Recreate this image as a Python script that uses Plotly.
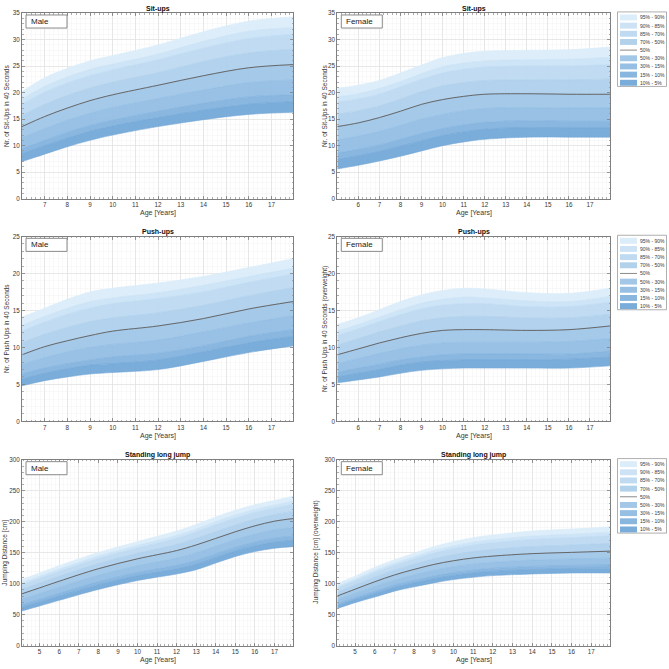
import plotly.graph_objects as go

# ---------------- DATA ----------------
band_labels = ["95% - 90%", "90% - 85%", "85% - 70%", "70% - 50%", "50%",
               "50% - 30%", "30% - 15%", "15% - 10%", "10% - 5%"]

# Male sit-ups
su_m_age = [6, 7, 8, 9, 10, 12, 14, 16, 17.95]
su_m_p95 = [20.2, 22.8, 24.6, 26.0, 27.0, 29.0, 31.5, 33.5, 34.3]
su_m_p90 = [18.8, 21.2, 23.0, 24.4, 25.4, 27.3, 29.7, 31.6, 32.3]
su_m_p85 = [17.8, 20.1, 21.8, 23.2, 24.3, 26.2, 28.4, 30.2, 31.0]
su_m_p70 = [15.7, 17.8, 19.5, 20.9, 22.0, 23.8, 25.9, 27.5, 28.2]
su_m_p50 = [13.6, 15.5, 17.1, 18.5, 19.6, 21.4, 23.2, 24.7, 25.3]
su_m_p30 = [11.5, 13.2, 14.8, 16.1, 17.2, 18.9, 20.5, 21.9, 22.4]
su_m_p15 = [9.4, 11.0, 12.5, 13.8, 14.8, 16.5, 18.0, 19.2, 19.6]
su_m_p10 = [8.5, 10.0, 11.4, 12.7, 13.7, 15.3, 16.7, 17.8, 18.3]
su_m_p5 = [7.0, 8.4, 9.8, 11.0, 12.0, 13.6, 14.9, 15.9, 16.3]

# Female sit-ups
su_f_age = [5, 6, 7, 8, 9, 10, 11, 12, 14, 16, 17.95]
su_f_p95 = [20.8, 21.4, 22.3, 23.7, 25.2, 26.6, 27.4, 27.8, 28.0, 28.1, 28.6]
su_f_p90 = [19.2, 19.8, 20.8, 22.1, 23.6, 24.9, 25.6, 26.0, 26.2, 26.3, 26.7]
su_f_p85 = [18.2, 18.8, 19.7, 21.1, 22.5, 23.7, 24.4, 24.8, 25.0, 25.0, 25.3]
su_f_p70 = [15.9, 16.6, 17.5, 18.8, 20.2, 21.3, 21.9, 22.3, 22.4, 22.4, 22.6]
su_f_p50 = [13.6, 14.3, 15.3, 16.5, 17.8, 18.7, 19.3, 19.7, 19.8, 19.7, 19.7]
su_f_p30 = [11.1, 11.8, 12.7, 13.8, 15.0, 15.9, 16.6, 17.0, 17.2, 17.1, 17.1]
su_f_p15 = [8.6, 9.3, 10.1, 11.2, 12.3, 13.2, 13.9, 14.4, 14.7, 14.6, 14.6]
su_f_p10 = [7.4, 8.1, 8.9, 9.9, 10.9, 11.9, 12.6, 13.1, 13.4, 13.4, 13.4]
su_f_p5 = [5.6, 6.3, 7.1, 8.0, 9.0, 10.0, 10.7, 11.2, 11.6, 11.6, 11.6]

# Male push-ups
pu_m_age = [6, 7, 8, 9, 10, 12, 14, 16, 17.95]
pu_m_p95 = [14.1, 15.3, 16.5, 17.5, 18.0, 18.7, 19.6, 20.8, 22.0]
pu_m_p90 = [13.0, 14.2, 15.3, 16.2, 16.7, 17.4, 18.4, 19.6, 20.7]
pu_m_p85 = [12.2, 13.4, 14.5, 15.3, 15.9, 16.6, 17.5, 18.8, 19.9]
pu_m_p70 = [10.6, 11.8, 12.7, 13.5, 14.0, 14.7, 15.7, 17.0, 18.1]
pu_m_p50 = [9.0, 10.1, 10.9, 11.6, 12.2, 12.9, 13.9, 15.2, 16.2]
pu_m_p30 = [7.7, 8.6, 9.4, 10.0, 10.4, 11.0, 12.1, 13.3, 14.3]
pu_m_p15 = [6.4, 7.2, 7.8, 8.3, 8.7, 9.2, 10.2, 11.5, 12.4]
pu_m_p10 = [5.7, 6.5, 7.1, 7.6, 7.8, 8.3, 9.4, 10.6, 11.5]
pu_m_p5 = [4.8, 5.5, 6.0, 6.4, 6.6, 7.0, 8.1, 9.3, 10.2]

# Female push-ups
pu_f_age = [5, 6, 7, 8, 9, 10, 11, 12, 14, 16, 17.95]
pu_f_p95 = [13.1, 14.0, 15.1, 16.2, 17.1, 17.7, 18.0, 17.9, 17.4, 17.3, 18.0]
pu_f_p90 = [12.2, 13.1, 14.1, 15.1, 16.0, 16.5, 16.8, 16.7, 16.3, 16.2, 16.9]
pu_f_p85 = [11.6, 12.5, 13.5, 14.4, 15.2, 15.7, 15.9, 15.9, 15.5, 15.5, 16.1]
pu_f_p70 = [10.3, 11.2, 12.1, 12.9, 13.6, 14.0, 14.2, 14.2, 14.0, 14.0, 14.5]
pu_f_p50 = [9.0, 9.8, 10.6, 11.3, 11.9, 12.3, 12.4, 12.4, 12.3, 12.4, 12.9]
pu_f_p30 = [7.8, 8.5, 9.2, 9.8, 10.3, 10.6, 10.7, 10.7, 10.7, 10.8, 11.2]
pu_f_p15 = [6.6, 7.2, 7.7, 8.3, 8.7, 9.0, 9.1, 9.1, 9.1, 9.1, 9.5]
pu_f_p10 = [6.0, 6.5, 7.0, 7.6, 8.0, 8.2, 8.3, 8.3, 8.3, 8.4, 8.7]
pu_f_p5 = [5.2, 5.6, 6.0, 6.5, 6.9, 7.1, 7.2, 7.2, 7.2, 7.2, 7.5]

# Male standing long jump
lj_m_age = [4.1, 5, 6, 8, 10, 12, 13, 14, 15, 16, 17, 17.95]
lj_m_p95 = [106.6, 117.2, 128.9, 150.2, 167.8, 184.9, 195.5, 207.8, 218.4, 227.5, 234.4, 241.3]
lj_m_p90 = [101.5, 111.9, 123.4, 144.5, 161.7, 178.0, 188.2, 200.2, 210.8, 220.0, 227.0, 233.3]
lj_m_p85 = [98.1, 108.3, 119.7, 140.5, 157.6, 173.2, 183.3, 195.0, 205.6, 214.9, 222.0, 227.9]
lj_m_p70 = [91.0, 100.9, 111.9, 132.5, 149.0, 163.5, 173.1, 184.2, 194.9, 204.3, 211.6, 216.7]
lj_m_p50 = [83.6, 93.2, 103.9, 124.1, 140.1, 153.4, 162.5, 173.1, 183.8, 193.4, 200.9, 205.1]
lj_m_p30 = [74.7, 83.8, 94.0, 113.4, 128.9, 141.3, 149.7, 160.3, 171.0, 180.1, 186.9, 190.6]
lj_m_p15 = [66.1, 74.7, 84.4, 103.0, 118.0, 129.6, 137.3, 148.0, 158.6, 167.2, 173.4, 176.6]
lj_m_p10 = [62.0, 70.3, 79.8, 98.0, 112.7, 123.9, 131.3, 142.0, 152.6, 161.0, 166.8, 169.8]
lj_m_p5 = [55.9, 63.9, 73.0, 90.6, 105.0, 115.6, 122.5, 133.2, 143.8, 151.8, 157.2, 159.8]

# Female standing long jump
lj_f_age = [4.1, 5, 6, 7, 8, 9, 10, 11, 12, 14, 16, 17.95]
lj_f_p95 = [100.2, 111.9, 126.3, 138.5, 149.2, 159.8, 167.8, 174.2, 178.5, 184.9, 188.1, 191.8]
lj_f_p90 = [95.8, 107.3, 121.2, 133.1, 143.4, 153.5, 161.0, 167.0, 171.0, 176.9, 179.8, 183.2]
lj_f_p85 = [92.7, 104.2, 117.7, 129.4, 139.5, 149.1, 156.4, 162.1, 165.9, 171.4, 174.2, 177.3]
lj_f_p70 = [86.5, 97.7, 110.5, 121.8, 131.4, 140.2, 146.9, 152.0, 155.4, 160.1, 162.5, 165.1]
lj_f_p50 = [80.0, 91.0, 103.0, 114.0, 123.0, 131.0, 137.0, 141.5, 144.5, 148.5, 150.5, 152.5]
lj_f_p30 = [73.5, 84.1, 95.1, 105.6, 114.0, 121.5, 127.3, 131.5, 134.4, 138.0, 139.8, 141.2]
lj_f_p15 = [67.2, 77.3, 87.4, 97.6, 105.2, 112.2, 117.8, 121.8, 124.7, 127.8, 129.5, 130.3]
lj_f_p10 = [64.2, 74.1, 83.7, 93.6, 101.0, 107.8, 113.3, 117.2, 119.9, 122.8, 124.5, 125.0]
lj_f_p5 = [59.7, 69.3, 78.3, 87.9, 94.8, 101.2, 106.6, 110.3, 113.0, 115.6, 117.2, 117.2]

titles = ["Sit-ups", "Sit-ups", "Push-ups", "Push-ups", "Standing long jump", "Standing long jump"]
sex_labels = ["Male", "Female", "Male", "Female", "Male", "Female"]
y_titles = ["Nr. of Sit-Ups in 40 Seconds", "Nr. of Sit-Ups in 40 Seconds",
            "Nr. of Push Ups in 40 Seconds", "Nr. of Push Ups in 40 Seconds (overweight)",
            "Jumping Distance [cm]", "Jumping Distance [cm] (overweight)"]
x_title = "Age [Years]"

# ---------------- STYLE / LAYOUT ----------------
W = H = 669
FONT = "Liberation Sans, Arial, Helvetica, sans-serif"
TXT = "#383838"
AXC = "#7f7f7f"

def px(x):
    return x / W

def py(y):
    return 1 - y / H

# fill colours from top band (95-90) to bottom band (10-5)
band_fill = ["rgba(218,237,250,0.93)", "rgba(202,226,246,0.93)", "rgba(188,217,241,0.93)",
             "rgba(173,207,236,0.93)", "rgba(158,197,231,0.93)", "rgba(144,188,227,0.93)",
             "rgba(129,178,222,0.93)", "rgba(113,167,216,0.93)"]
legend_swatch = ["#dcedfa", "#cde3f5", "#c0dbf1", "#b2d2ec", "#a3c8e7", "#96bfe3", "#88b6de", "#79acd9"]
MEDIAN_COLOR = "#666666"

cols = [(22.0, 293.0), (337.3, 610.0)]
rows = [(9.3, 196.7), (235.0, 421.7), (460.7, 648.3)]

panels = [
    dict(age=su_m_age, p=[su_m_p5, su_m_p10, su_m_p15, su_m_p30, su_m_p50, su_m_p70, su_m_p85, su_m_p90, su_m_p95],
         xr=[6.0, 17.95], xt=list(range(7, 18)), yr=[0, 35], ydt=5, ymin=1),
    dict(age=su_f_age, p=[su_f_p5, su_f_p10, su_f_p15, su_f_p30, su_f_p50, su_f_p70, su_f_p85, su_f_p90, su_f_p95],
         xr=[5.0, 17.95], xt=list(range(6, 18)), yr=[0, 35], ydt=5, ymin=1),
    dict(age=pu_m_age, p=[pu_m_p5, pu_m_p10, pu_m_p15, pu_m_p30, pu_m_p50, pu_m_p70, pu_m_p85, pu_m_p90, pu_m_p95],
         xr=[6.0, 17.95], xt=list(range(7, 18)), yr=[0, 25], ydt=5, ymin=1),
    dict(age=pu_f_age, p=[pu_f_p5, pu_f_p10, pu_f_p15, pu_f_p30, pu_f_p50, pu_f_p70, pu_f_p85, pu_f_p90, pu_f_p95],
         xr=[5.0, 17.95], xt=list(range(6, 18)), yr=[0, 25], ydt=5, ymin=1),
    dict(age=lj_m_age, p=[lj_m_p5, lj_m_p10, lj_m_p15, lj_m_p30, lj_m_p50, lj_m_p70, lj_m_p85, lj_m_p90, lj_m_p95],
         xr=[4.1, 17.95], xt=list(range(5, 18)), yr=[0, 300], ydt=50, ymin=10),
    dict(age=lj_f_age, p=[lj_f_p5, lj_f_p10, lj_f_p15, lj_f_p30, lj_f_p50, lj_f_p70, lj_f_p85, lj_f_p90, lj_f_p95],
         xr=[4.1, 17.95], xt=list(range(5, 18)), yr=[0, 300], ydt=50, ymin=10),
]

fig = go.Figure()
shapes = []
annotations = []
layout_axes = {}

for i, pan in enumerate(panels):
    r, c = divmod(i, 2)
    L, R = cols[c]
    T, B = rows[r]
    n = i + 1
    xa = "x" if n == 1 else f"x{n}"
    ya = "y" if n == 1 else f"y{n}"
    xkey = "xaxis" if n == 1 else f"xaxis{n}"
    ykey = "yaxis" if n == 1 else f"yaxis{n}"

    bottom_to_top_fill = band_fill[::-1]
    fig.add_trace(go.Scatter(x=pan["age"], y=pan["p"][0], mode="lines",
                             line=dict(width=0.6, color=bottom_to_top_fill[0], shape="spline"),
                             xaxis=xa, yaxis=ya, showlegend=False, hoverinfo="skip"))
    for k in range(1, 9):
        fig.add_trace(go.Scatter(x=pan["age"], y=pan["p"][k], mode="lines",
                                 line=dict(width=0.8, color=bottom_to_top_fill[k - 1], shape="spline"),
                                 fill="tonexty", fillcolor=bottom_to_top_fill[k - 1],
                                 xaxis=xa, yaxis=ya, showlegend=False, hoverinfo="skip"))
    fig.add_trace(go.Scatter(x=pan["age"], y=pan["p"][4], mode="lines",
                             line=dict(width=1, color=MEDIAN_COLOR, shape="spline"),
                             xaxis=xa, yaxis=ya, showlegend=False))

    common = dict(showline=True, linecolor=AXC, linewidth=1, mirror="allticks",
                  ticks="inside", ticklen=3, tickcolor=AXC, tickwidth=0.8,
                  showgrid=True, gridcolor="#e2e2e2", gridwidth=0.8, zeroline=False,
                  tickfont=dict(family=FONT, size=6.3, color=TXT), fixedrange=True)
    minor_common = dict(tick0=0, ticks="inside", ticklen=1.5, tickcolor="#9a9a9a",
                        showgrid=True, gridcolor="#f4f4f4", gridwidth=0.5)
    layout_axes[xkey] = dict(common, domain=[px(L), px(R)], anchor=ya, range=pan["xr"],
                             tickmode="array", tickvals=pan["xt"],
                             minor=dict(minor_common, dtick=0.2))
    layout_axes[ykey] = dict(common, domain=[py(B), py(T)], anchor=xa, range=pan["yr"],
                             tick0=0, dtick=pan["ydt"],
                             minor=dict(minor_common, dtick=pan["ymin"]))

    # title
    annotations.append(dict(x=px((L + R) / 2), y=py(T - 4.6), xref="paper", yref="paper",
                            text=f"<b>{titles[i]}</b>", showarrow=False, xanchor="center", yanchor="middle",
                            font=dict(family=FONT, size=7, color="#111111")))
    # x title
    annotations.append(dict(x=px((L + R) / 2), y=py(B + 15), xref="paper", yref="paper",
                            text=x_title, showarrow=False, xanchor="center", yanchor="middle",
                            font=dict(family=FONT, size=7, color=TXT)))
    # y title
    if c == 0:
        yx = 7 if r < 2 else 5
    else:
        yx = 325 if r < 2 else 316
    annotations.append(dict(x=px(yx), y=py((T + B) / 2), xref="paper", yref="paper",
                            text=y_titles[i], showarrow=False, textangle=-90,
                            xanchor="center", yanchor="middle",
                            font=dict(family=FONT, size=6.5, color=TXT)))
    # sex label box
    shapes.append(dict(type="rect", xref="paper", yref="paper",
                       x0=px(L + 4), x1=px(L + 45), y0=py(T + 15), y1=py(T + 1.8),
                       fillcolor="white", line=dict(color="#8a8a8a", width=1)))
    annotations.append(dict(x=px(L + 6.5), y=py(T + 8.4), xref="paper", yref="paper",
                            text=sex_labels[i], showarrow=False, xanchor="left", yanchor="middle",
                            font=dict(family=FONT, size=8, color="#222222")))

    # manual legend for the female panels
    if c == 1:
        shapes.append(dict(type="rect", xref="paper", yref="paper",
                           x0=px(617.5), x1=px(666.5), y0=py(T + 74), y1=py(T - 1.3),
                           fillcolor="white", line=dict(color="#9a9a9a", width=0.8)))
        sw = 0
        for k, lab in enumerate(band_labels):
            yc = T + 4.3 + 8.25 * k
            if lab == "50%":
                shapes.append(dict(type="line", xref="paper", yref="paper",
                                   x0=px(620), x1=px(637), y0=py(yc), y1=py(yc),
                                   line=dict(color="#8a8a8a", width=1)))
            else:
                shapes.append(dict(type="rect", xref="paper", yref="paper",
                                   x0=px(620), x1=px(637), y0=py(yc + 3), y1=py(yc - 3),
                                   fillcolor=legend_swatch[sw], line=dict(width=0)))
                sw += 1
            annotations.append(dict(x=px(638.5), y=py(yc), xref="paper", yref="paper",
                                    text=lab, showarrow=False, xanchor="left", yanchor="middle",
                                    borderpad=0,
                                    font=dict(family=FONT, size=5, color=TXT)))

fig.update_layout(width=W, height=H, margin=dict(l=0, r=0, t=0, b=0),
                  paper_bgcolor="white", plot_bgcolor="white", showlegend=False,
                  hovermode=False,
                  shapes=shapes, annotations=annotations, **layout_axes)

fig.write_html("out.html", config={"displayModeBar": False, "staticPlot": True},
               post_script="document.body.style.margin='0px';document.body.style.padding='0px';"
                           "document.body.style.overflow='hidden';")
